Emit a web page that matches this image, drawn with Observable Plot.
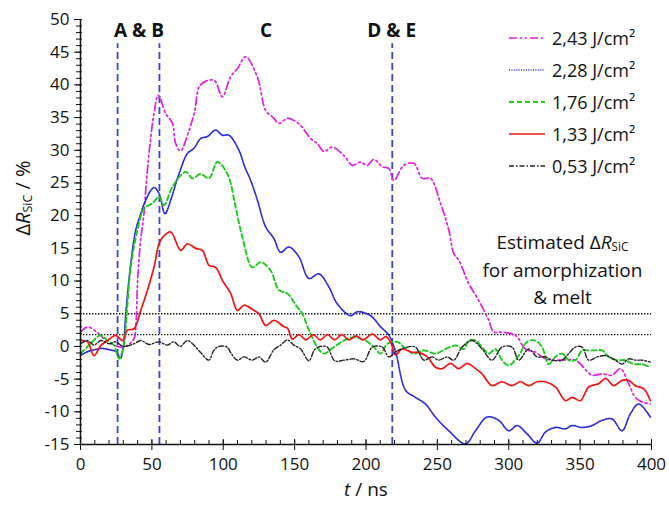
<!DOCTYPE html>
<html><head><meta charset="utf-8">
<script src="https://cdn.jsdelivr.net/npm/d3@7"></script>
<script src="https://cdn.jsdelivr.net/npm/@observablehq/plot@0.6"></script>
<style>
body{margin:0;background:#fff;}
#wrap{position:relative;width:669px;height:507px;font-family:"Open Sans",sans-serif;}
#legend{position:absolute;left:508px;top:22px;}
.row{display:flex;align-items:center;height:32px;font-size:18px;color:#111;white-space:nowrap;}
.row svg{margin-right:6px}
</style></head><body><div id="wrap"></div>
<script>
// ---- data ----
const t243 = [0,5,9.5,14,19,23.5,28,33,37.5,39,40,42,44.5,46.2,48.5,51.5,54.5,59.7,64.4,66.7,70,76,80,84,93.5,99.4,105,110,115.7,123.9,129.7,135,139,144.9,150,154.2,161.2,166,170.5,176.4,184.5,190.4,196.2,200.9,205.5,211.4,216,219.5,226.5,233.5,239.4,245.2,252.2,258,261.5,265,272,279,286,289.5,295.4,304.7,311.7,318.7,325.7,330.4,337.4,346.7,358.3,365.4,372.4,378.2,384,388.7,393.4,399.2];
const v243 = [2.2,3.0,2.5,1.7,0.7,0.2,-0.1,0.2,1.2,4,10,16,20.4,25.4,30.5,35.7,38.4,35.6,34.1,31,29.9,33,36,40,40.7,38.2,41.2,42.5,44.3,41.2,36.1,35,34.1,34.9,34.5,33.8,31.8,31,29.8,30.5,29.2,27.7,28.2,27.7,28.6,27.5,27.2,25.4,27.7,28,25.7,25.7,21.9,17.8,14.2,13.2,9.6,7,4,2.2,2.2,1.7,-0.4,-0.9,-1.9,-2.1,-2.1,-2.1,-4.4,-4.2,-4.4,-3.4,-5.7,-7.8,-8.5,-8.8];

const t228 = [0,5,10,15,20,25,28,30,31.7,35.2,38.7,42.2,45.7,51.5,55,59.2,63.2,69,74.9,79.5,84.2,88.9,94.7,99.4,104,111,115,119.2,123.9,129.7,135.5,140.2,146,153,160,167,174,179.9,189.2,194,203.2,210.2,216,220.7,227.7,234.7,241.6,248.6,258,269.7,276.7,284.9,293,300,305.9,312.9,319.9,325.7,332.7,339.7,344.4,351.4,358.3,365.4,372.4,379.3,385.2,391,399.2];
const v228 = [-1.4,-0.8,-0.5,-0.3,-0.5,-0.8,-1.8,0,5,12.7,17.8,20.3,22.4,24.3,23.4,20.3,22.4,26.4,29.5,30.3,31.8,32.1,33.1,32.3,32.3,30,27.5,25.4,22.4,18.3,16.5,14.4,15.2,13.7,10.4,11.1,9.1,6.5,4.7,5.3,4.7,3,1.7,-0.8,-6.7,-7.8,-8.8,-10.8,-12.9,-14.9,-12.9,-10.8,-11.3,-12.9,-12.1,-13.4,-14.8,-13.1,-12.4,-12.6,-12.1,-12.4,-12.1,-11.3,-11.1,-12.9,-10.3,-8.8,-10.8];

const t176 = [0,7,14,19,23.5,27,30.5,31.7,35.2,39.9,44.5,50.4,55,58.5,64.4,73.7,78.4,84.2,90,95.9,102.9,108.7,113.4,120.4,126.2,133.2,139,144.9,151.9,155.4,160,165.9,170.5,177.5,184.5,191.5,199.7,205.5,210.2,214.9,221.9,226.5,233.5,240.5,248.7,255.7,262.7,268.5,272,276.7,281.3,286,290.6,295.3,300,307,312.8,318.7,323.3,328,332.7,337.3,342,346.7,351.4,356,360.7,365.4,370,375.8,381.7,387.5,393.4,399.2];
const v176 = [-1.1,0.4,1.7,0.9,0.15,-1.9,0.4,3,12.1,17.8,21.1,21.9,22.9,21.6,24.4,26.7,25.7,26.4,25.7,28.2,26.4,21.3,16.7,12.1,12.9,11.6,8.6,8.1,6,5,2.5,-0.1,-1.1,-0.1,0.9,1.4,0.9,-0.1,-1.1,0.4,0.7,-0.1,-1.1,-0.6,-1.1,-0.4,0.15,-0.4,0.9,0.9,-0.1,-1.1,-0.4,-2.1,-2.9,-1.4,0.7,0.9,-0.1,-2.7,-1.6,-1.1,-2.1,-2.1,-0.6,-0.6,-0.6,-0.6,-1.6,-2.1,-2.1,-2.7,-2.7,-3.2];

const t133 = [0,4.9,9.5,14.2,18.9,24.7,29.4,32.9,37.5,42.2,46.9,51.5,55,58,63.2,70.2,74.9,80.7,85.4,90,94.7,99.4,105.2,109.9,114.5,121.5,125,129.7,135.5,142.5,145,148.4,153,158,163,168,173,178,183,188,193,198,204.4,210,214,217.5,220.7,225.4,232.4,237,243,248.7,253.3,259.2,265,270.9,275.6,281.3,288.3,295.3,302.3,308.2,314,319.8,325.7,332.7,339.7,344.4,350.2,356,363,367.8,373.6,379.4,384,388.7,394.6,399.2];
const v133 = [0.9,0.7,-1.4,0.15,0.9,1.7,0.9,2.5,2.7,5.5,8.6,12.1,15.7,16.8,17.5,14.7,15.7,15,14.7,12.4,12.1,10.1,8.1,5.5,6.3,5.5,5,3.2,4,3,2.8,1.1,1.8,1.0,1.8,1.0,1.8,1.0,1.8,1.0,1.6,1.0,1.9,1.0,1.5,0.5,-1.3,-0.4,-0.9,-0.9,-1.6,-3.2,-3.4,-2.6,-3.4,-2.6,-3.2,-4.2,-6,-5.4,-6,-5.4,-6,-5.4,-5.4,-6.2,-8.3,-7.8,-8.3,-6.2,-5.7,-4.9,-6,-5.2,-5.2,-6,-6.5,-8.3];

const t053 = [0,4.9,9.5,14.2,20,24.7,30,37.5,42.2,48,55,60.7,65.4,70,74.7,79.4,84,89.9,93.4,96.9,102.7,105.1,109.8,114.5,120.3,125,129.7,135.5,140.2,144.9,149.5,154.2,160,164,168.2,172.9,178,184.5,191.5,198.5,204.4,211.4,216,221.9,228.9,234.7,240.5,246.4,251,256.9,261.5,267.4,274.4,281.3,288.3,295.3,302.3,307,314,319.8,325.7,330.4,337.3,342,346.7,351.4,356,362,367.8,374.8,379.4,384,388.7,393.4,399.2];
const v053 = [0.4,0.9,0.2,0.9,0.4,0.7,0,0.4,0.9,0.3,0.7,0.2,0.7,0,0.9,0.2,-0.9,-2.1,-0.6,0,-0.1,-0.9,-2.1,-1.6,-2.1,-1.6,-2.4,-0.5,0.2,1,0.2,-0.4,-2.2,-0.5,0,-0.1,-2.2,-2.1,-1.9,-2.3,-0.1,-0.1,-1.6,-0.7,-0.1,-0.1,-2.1,-1.6,-2.1,-1.6,-2.1,-0.1,0.9,-0.4,-2.1,-0.1,-0.1,-2.1,-0.4,-1.6,-1.6,-2.1,-2.1,-1.1,-0.1,-0.1,-2.1,-1.6,-1.4,-2.1,-2.7,-1.9,-2.1,-2.1,-2.4];

const seriesNames = ["2,43 J/cm²","2,28 J/cm²","1,76 J/cm²","1,33 J/cm²","0,53 J/cm²"];
const seriesT = [t243,t228,t176,t133,t053];
const seriesV = [v243,v228,v176,v133,v053];

const eventTimes = [26, 55.3, 218.4];          // vertical dashed markers (ns)
const eventLabels = ["A & B","C","D & E"];
const eventLabelT = [41, 130, 218];
const thresholds = [5, 1.8];                    // dotted horizontal lines (%)
const annotText = "Estimated ΔR_SiC\nfor amorphization\n& melt";
const xMajor = [0,50,100,150,200,250,300,350,400];
const xMinor = d3.range(0,401,10);
const yMajor = [-15,-10,-5,0,5,10,15,20,25,30,35,40,45,50];
const yMinor = d3.range(-15,51,1);

// ---- styles ----
const styles = [
  {stroke:"#e21fdc", dash:"8,3,2,3,2,3", w:1.7},
  {stroke:"#2a2ad6", dash:"1,1.4", w:1.7},
  {stroke:"#1ec81e", dash:"5,3", w:1.9},
  {stroke:"#f01414", dash:null, w:1.7},
  {stroke:"#222222", dash:"5,2,1.5,2", w:1.4}
];

const rows = [];
seriesT.forEach((ts,i)=>ts.forEach((t,j)=>rows.push({s:i,t,v:seriesV[i][j]})));

const lineMarks = styles.map((st,i)=>Plot.line(rows.filter(r=>r.s===i), {
  x:"t", y:"v", stroke: st.stroke, strokeWidth: st.w, strokeDasharray: st.dash, curve:"catmull-rom"
}));

const labRows = eventLabels.map((l,i)=>({l, t:eventLabelT[i]}));

const plot = Plot.plot({
  width:669, height:507,
  marginLeft:80, marginRight:18, marginTop:19, marginBottom:63,
  style:{fontFamily:"'Open Sans', sans-serif", fontSize:"17px", color:"#111", background:"transparent", overflow:"visible"},
  x:{domain:[0,400]},
  y:{domain:[-15,50]},
  marks:[
    Plot.ruleY(thresholds, {stroke:"#111", strokeWidth:1.4, strokeDasharray:"1.4,1.6"}),
    Plot.ruleX(eventTimes, {y1:-15, y2:46.3, stroke:"#3a45cf", strokeWidth:1.8, strokeDasharray:"7,4"}),
    ...lineMarks,
    Plot.text(labRows, {x:"t", y:48.2, text:"l", fontWeight:"bold", fontSize:19, fill:"#111"}),
    Plot.text([annotText], {x:337.6, y:12, text:d=>d, fontSize:19, lineHeight:1.45, fill:"#111"}),
    Plot.text(["ΔR_SiC / %"], {frameAnchor:"left", rotate:-90, dx:-57, dy:3.5, text:d=>d, fontSize:20, fill:"#111"}),
    Plot.text(["t / ns"], {x:200, frameAnchor:"bottom", dy:51, text:d=>d, fontSize:19, fill:"#111"}),
    Plot.axisX({ticks:xMajor, tickSize:6, tickPadding:7, tickFormat:d=>String(d), label:null, fontSize:17}),
    Plot.axisX({ticks:xMajor, tickSize:-5, text:null, label:null}),
    Plot.axisX({ticks:xMinor, tickSize:-4, text:null, label:null}),
    Plot.axisY({ticks:yMajor, tickSize:6, tickPadding:5, tickFormat:d=>String(d), label:null, fontSize:17}),
    Plot.axisY({ticks:yMinor, tickSize:4, text:null, label:null}),
    Plot.axisY({ticks:yMinor, tickSize:-2, text:null, label:null}),
    Plot.ruleX([0], {stroke:"#111", strokeWidth:1.5}),
    Plot.ruleY([-15], {stroke:"#111", strokeWidth:1.5})
  ]
});

// rich text: italic R with subscript SiC, italic t
function esc(s){return s.replace(/&/g,"&amp;").replace(/</g,"&lt;");}
plot.querySelectorAll("text, tspan").forEach(el=>{
  if (el.children.length) return;
  const s = el.textContent;
  if (s.includes("ΔR_SiC")) {
    const [a,b] = s.split("ΔR_SiC");
    el.innerHTML = esc(a) + 'Δ<tspan font-style="italic">R</tspan><tspan font-size="62%" baseline-shift="-20%">SiC</tspan>' + esc(b);
  } else if (s === "t / ns") {
    el.innerHTML = '<tspan font-style="italic">t</tspan> / ns';
  }
});

const wrap = document.getElementById("wrap");
wrap.appendChild(plot);

// legend overlay
const leg = document.createElement("div");
leg.id = "legend";
seriesNames.forEach((name,i)=>{
  const st = styles[i];
  const row = document.createElement("div");
  row.className = "row";
  row.innerHTML = `<svg width="38" height="10"><line x1="1" x2="37" y1="5" y2="5" stroke="${st.stroke}" stroke-width="${st.w}" ${st.dash?`stroke-dasharray="${st.dash}"`:""}/></svg><span>${name}</span>`;
  leg.appendChild(row);
});
wrap.appendChild(leg);
</script></body></html>
